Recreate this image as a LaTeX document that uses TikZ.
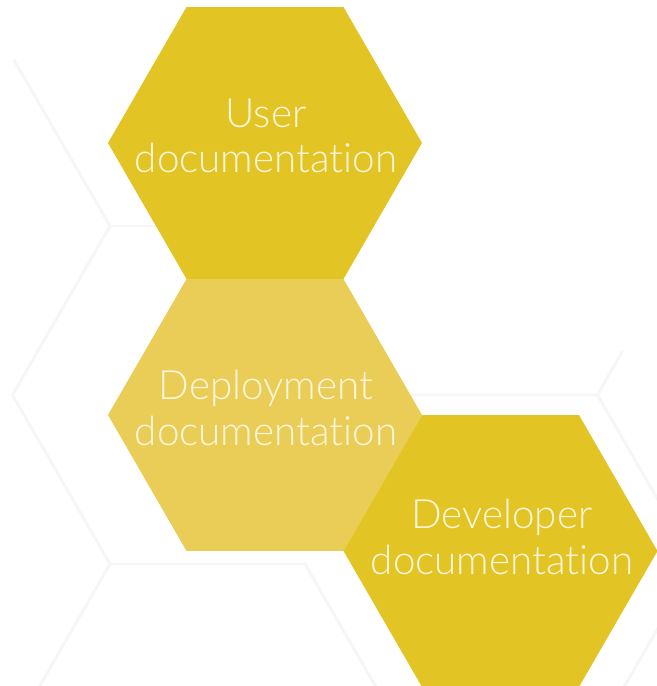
\documentclass[tikz,border=0pt]{standalone}
\usepackage{fontspec}
\setmainfont{Lato Light}[Ligatures={NoCommon,NoRequired,NoContextual}]
\usetikzlibrary{calc}
\definecolor{hexgold}{RGB}{226,196,36}
\definecolor{hexpale}{RGB}{233,205,86}
\definecolor{gridgrey}{RGB}{246,246,246}
\definecolor{labelcream}{RGB}{252,246,222}
\def\hexagon[#1](#2)(#3){\fill[#1] ($(#2)+(0:#3)$) -- ($(#2)+(60:#3)$) -- ($(#2)+(120:#3)$) -- ($(#2)+(180:#3)$) -- ($(#2)+(240:#3)$) -- ($(#2)+(300:#3)$) -- cycle;}

\begin{document}
\begin{tikzpicture}[x=0.02cm, y=-0.02cm,
		gridline/.style={line width=1.7pt, color=gridgrey, line join=round, line cap=round},
		hexlabel/.style={text=labelcream, font=\fontsize{23}{26}\selectfont, align=center, inner sep=0pt}]
			%%%%% START %%%%%
			
			\useasboundingbox (0, 0) rectangle (656, 686);
			
			% faint honeycomb behind
			\draw[gridline] (14, 60) -- (110, 226) -- (12.5, 395) -- (110, 564) -- (12.5, 733);
			\draw[gridline] (110, 226) -- (305, 226);
			\draw[gridline] (110, 564) -- (305, 564) -- (402.5, 733);
			\draw[gridline] (402.5, 395) -- (597.5, 395) -- (622, 352);
			\draw[gridline] (597.5, 395) -- (695, 564) -- (597.5, 733);
			
			\coordinate (userc) at (265, 143);
			\coordinate (deployc) at (265, 415);
			\coordinate (devc) at (500.5, 551);
			
			\hexagon[hexgold](userc)(157);
			\hexagon[hexpale](deployc)(157);
			\hexagon[hexgold](devc)(157);
			
			\node[hexlabel] (user) at (266, 136) {User\\documentation};
			\node[hexlabel] (deploy) at (266, 408) {Deployment\\documentation};
			\node[hexlabel] (dev) at (502, 537) {Developer\\documentation};
			
			%%%%% END %%%%%
\end{tikzpicture}
\end{document}
